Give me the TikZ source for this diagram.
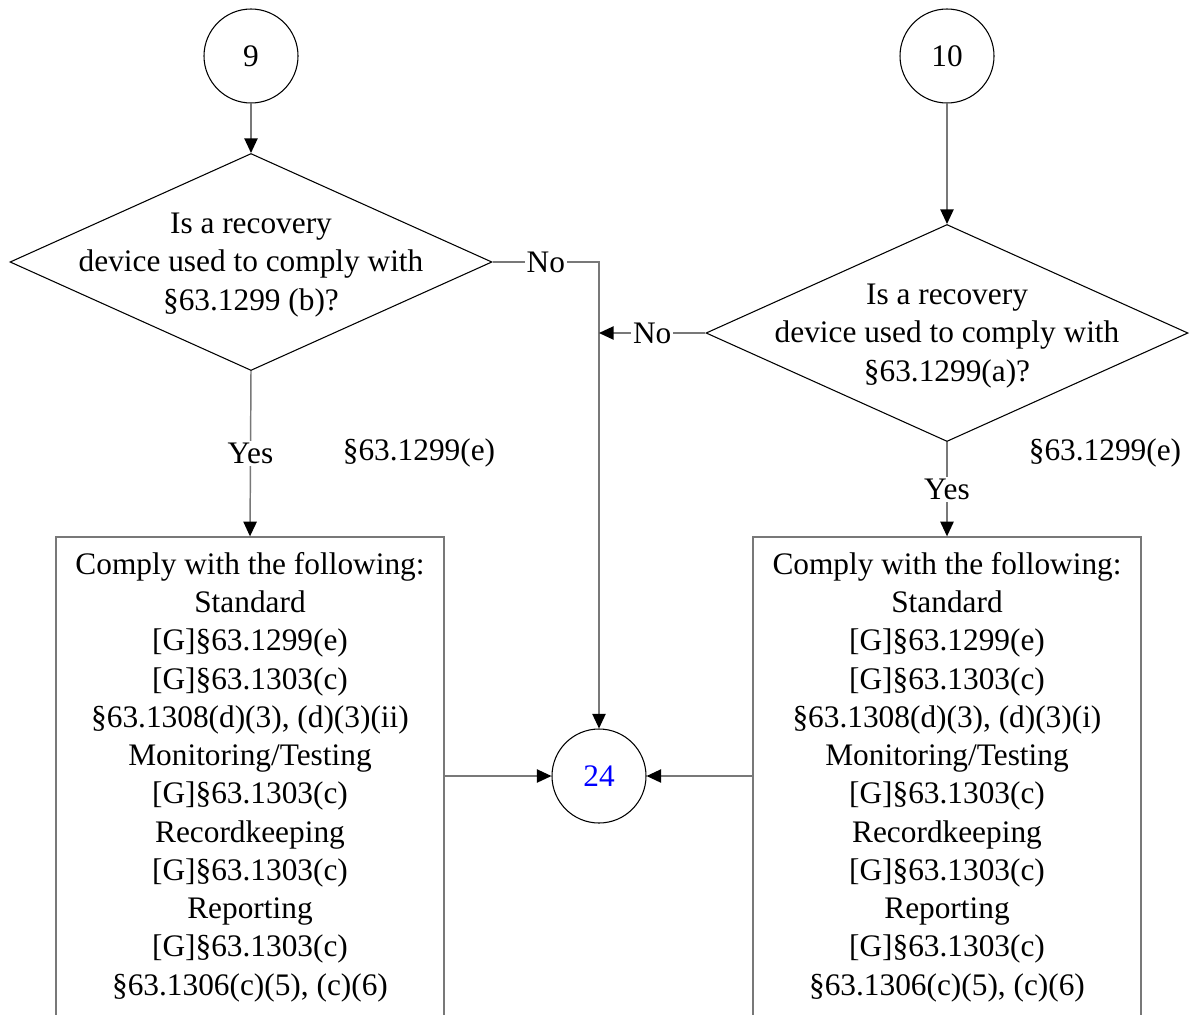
\documentclass[tikz,border=0pt]{standalone}
\usepackage{fontspec}
\setmainfont{Liberation Serif}
\usetikzlibrary{shapes.geometric,arrows.meta}
\definecolor{lnc}{RGB}{120,120,120}
\begin{document}
\begin{tikzpicture}[x=0.75pt,y=-0.75pt,
  every node/.style={font=\fontsize{23.5pt}{28.7pt}\selectfont},
  circ/.style={circle,draw=black,line width=0.8pt,minimum size=94*0.75pt,inner sep=0pt},
  dia/.style={diamond,draw=black,line width=0.8pt,inner sep=0pt,minimum width=482*0.75pt,minimum height=217*0.75pt},
  dtext/.style={align=center,inner sep=0pt},
  box/.style={rectangle,draw=lnc,line width=1pt,minimum width=388*0.75pt,minimum height=480*0.75pt,align=center,inner sep=0pt},
  conn/.style={draw=lnc,line width=1.1pt},
  arr/.style={conn,-{Triangle[length=11pt,width=10pt,color=black,fill=black]}},
  lbl/.style={fill=white,inner sep=1.5pt}
]
\useasboundingbox (0,0) rectangle (1198,1014);
\clip (0,0) rectangle (1198,1014);

\node[circ] (c9) at (251,56) {9};
\node[circ] (c10) at (947,56) {10};
\node[circ,text=blue] (c24) at (599,776) {24};

\node[dia] (d1) at (251,262) {};
\node[dtext] at ([yshift=-3*0.75pt]d1.center) {Is a recovery\\device used to comply with\\§63.1299 (b)?};
\node[dia] (d2) at (947,333) {};
\node[dtext] at ([yshift=-3*0.75pt]d2.center) {Is a recovery\\device used to comply with\\§63.1299(a)?};

\node[box] (b1) at (250,777) {Comply with the following:\\Standard\\{[G]}§63.1299(e)\\{[G]}§63.1303(c)\\§63.1308(d)(3), (d)(3)(ii)\\Monitoring/Testing\\{[G]}§63.1303(c)\\Recordkeeping\\{[G]}§63.1303(c)\\Reporting\\{[G]}§63.1303(c)\\§63.1306(c)(5), (c)(6)};
\node[box] (b2) at (947,777) {Comply with the following:\\Standard\\{[G]}§63.1299(e)\\{[G]}§63.1303(c)\\§63.1308(d)(3), (d)(3)(i)\\Monitoring/Testing\\{[G]}§63.1303(c)\\Recordkeeping\\{[G]}§63.1303(c)\\Reporting\\{[G]}§63.1303(c)\\§63.1306(c)(5), (c)(6)};

\node (e1) at (419,453) {§63.1299(e)};
\node (e2) at (1105,453) {§63.1299(e)};

\draw[arr] (c9) -- (d1.north);
\draw[arr] (c10) -- (d2.north);
\draw[arr] (d1.south) -- node[lbl] {Yes} (b1.north);
\draw[arr] (d2.south) -- node[lbl] {Yes} (b2.north);
\draw[arr] (d1.east) -| node[lbl,pos=0.25] {No} (c24.north);
\coordinate (j) at (c24.north |- d2.west);
\draw[arr] (d2.west) -- node[lbl] {No} (j);
\draw[arr] (b1.east |- c24.west) -- (c24.west);
\draw[arr] (b2.west |- c24.east) -- (c24.east);
\end{tikzpicture}
\end{document}
